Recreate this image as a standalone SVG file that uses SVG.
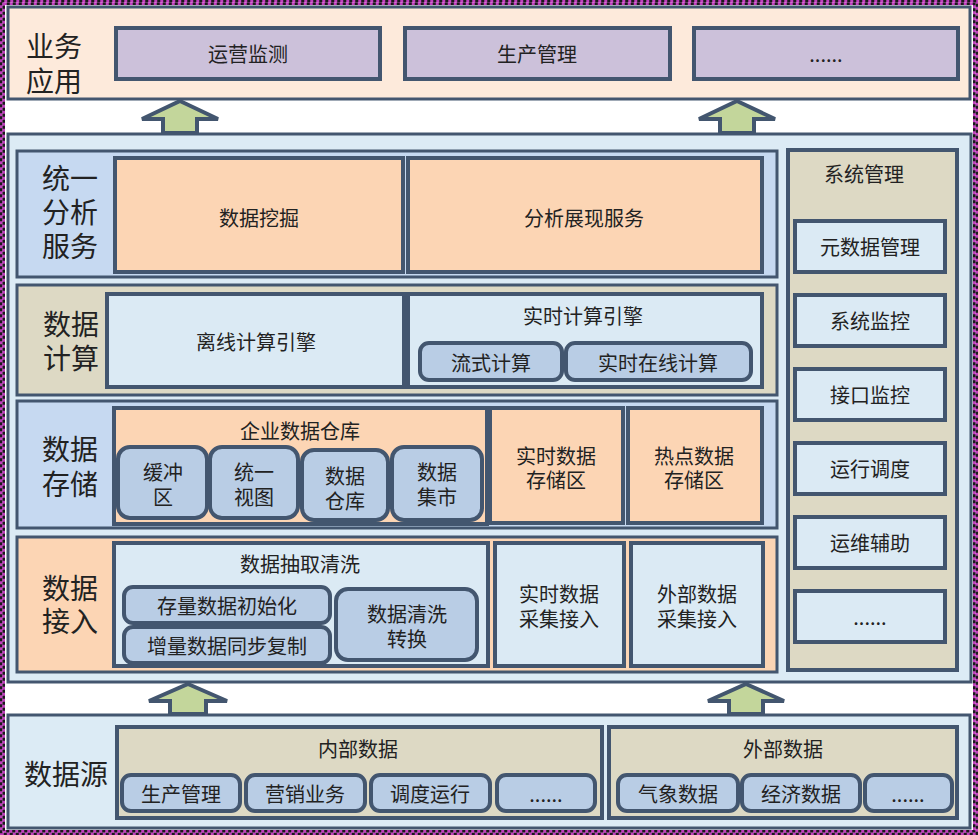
<svg xmlns="http://www.w3.org/2000/svg" width="978" height="835" viewBox="0 0 978 835">
<style>
.pn{stroke:#43566f;stroke-width:3}
.bx{stroke:#43566f;stroke-width:4}
.sub{fill:#b9cde5;stroke:#43566f;stroke-width:4}
.lav{fill:#ccc1da}
.peach{fill:#fcd5b4}
.tan{fill:#ddd9c4}
.lb{fill:#dbeaf4}
.mb{fill:#c6d9f1}
.t{font-family:"Noto Sans CJK SC","Noto Sans",sans-serif;font-size:20px;fill:#222;text-anchor:middle;dominant-baseline:central}
.L{font-size:28px}
.ar{fill:#c3d69b;stroke:#43566f;stroke-width:4;stroke-linejoin:miter}
</style>
<rect width="978" height="835" fill="#ffffff"/>
<rect x="1.25" y="1.25" width="975.5" height="832.5" fill="none" stroke="#c23fbf" stroke-width="2.5"/>
<rect x="1.25" y="1.25" width="975.5" height="832.5" fill="none" stroke="#1a1a1a" stroke-width="2.5" stroke-dasharray="3 3"/>
<rect x="3.75" y="3.75" width="970.5" height="827.5" fill="none" stroke="#c23fbf" stroke-width="2.5"/>
<rect x="3.75" y="3.75" width="970.5" height="827.5" fill="none" stroke="#1a1a1a" stroke-width="2.5" stroke-dasharray="3 3" stroke-dashoffset="3"/>

<g id="biz">
<rect class="pn" x="8" y="7" width="962" height="92" fill="#fdeadb"/>
<text class="t L" x="54" y="45">业务<tspan x="54" dy="35">应用</tspan></text>
<g id="biz1"><rect class="bx lav" x="116" y="28" width="264" height="51"/><text class="t" x="248" y="53">运营监测</text></g>
<g id="biz2"><rect class="bx lav" x="405" y="28" width="265" height="51"/><text class="t" x="537" y="53">生产管理</text></g>
<g id="biz3"><rect class="bx lav" x="694" y="28" width="264" height="51"/><text class="t" x="826" y="53">......</text></g>
</g>

<g id="main">
<rect class="pn" x="8" y="134" width="963" height="548" fill="#dcebf5"/>
</g>

<g id="analysis">
<rect class="pn mb" x="17" y="151" width="760" height="126"/>
<text class="t L" x="70" y="177">统一<tspan x="70" dy="34">分析</tspan><tspan x="70" dy="34">服务</tspan></text>
<g id="mining"><rect class="bx peach" x="115" y="158" width="288" height="114"/><text class="t" x="259" y="217">数据挖掘</text></g>
<g id="present"><rect class="bx peach" x="408" y="158" width="354" height="114"/><text class="t" x="584" y="217">分析展现服务</text></g>
</g>

<g id="compute">
<rect class="pn tan" x="17" y="285" width="760" height="110"/>
<text class="t L" x="71" y="323">数据<tspan x="71" dy="34">计算</tspan></text>
<g id="offline"><rect class="bx lb" x="107" y="294" width="297" height="93"/><text class="t" x="256" y="341">离线计算引擎</text></g>
<g id="realtime"><rect class="bx lb" x="408" y="294" width="354" height="93"/><text class="t" x="583" y="315">实时计算引擎</text>
<rect class="sub" x="420" y="343" width="142" height="37" rx="9"/><text class="t" x="491" y="362">流式计算</text>
<rect class="sub" x="566" y="343" width="185" height="37" rx="9"/><text class="t" x="658" y="362">实时在线计算</text></g>
</g>

<g id="storage">
<rect class="pn mb" x="17" y="401" width="760" height="127"/>
<text class="t L" x="70" y="448">数据<tspan x="70" dy="35">存储</tspan></text>
<g id="edw"><rect class="bx peach" x="114" y="408" width="373" height="116"/><text class="t" x="300" y="430">企业数据仓库</text>
<rect class="sub" x="118" y="447" width="89" height="71" rx="12"/><text class="t" x="163" y="471">缓冲<tspan x="163" dy="25">区</tspan></text>
<rect class="sub" x="210" y="447" width="88" height="71" rx="12"/><text class="t" x="254" y="471">统一<tspan x="254" dy="25">视图</tspan></text>
<rect class="sub" x="302" y="450" width="86" height="70" rx="12"/><text class="t" x="345" y="475">数据<tspan x="345" dy="25">仓库</tspan></text>
<rect class="sub" x="392" y="447" width="90" height="73" rx="12"/><text class="t" x="437" y="471">数据<tspan x="437" dy="25">集市</tspan></text></g>
<g id="rtstore"><rect class="bx peach" x="490" y="408" width="133" height="115"/><text class="t" x="556" y="455">实时数据<tspan x="556" dy="24">存储区</tspan></text></g>
<g id="hotstore"><rect class="bx peach" x="628" y="408" width="134" height="115"/><text class="t" x="694" y="455">热点数据<tspan x="694" dy="24">存储区</tspan></text></g>
</g>

<g id="ingest">
<rect class="pn peach" x="17" y="537" width="760" height="135"/>
<text class="t L" x="70" y="587">数据<tspan x="70" dy="33">接入</tspan></text>
<g id="etl"><rect class="bx lb" x="114" y="543" width="374" height="123"/><text class="t" x="300" y="563">数据抽取清洗</text>
<rect class="sub" x="124" y="587" width="206" height="36" rx="9"/><text class="t" x="227" y="605">存量数据初始化</text>
<rect class="sub" x="124" y="627" width="206" height="36" rx="9"/><text class="t" x="227" y="645">增量数据同步复制</text>
<rect class="sub" x="336" y="589" width="141" height="71" rx="12"/><text class="t" x="407" y="613">数据清洗<tspan x="407" dy="25">转换</tspan></text></g>
<g id="rtcollect"><rect class="bx lb" x="495" y="543" width="129" height="123"/><text class="t" x="559" y="593">实时数据<tspan x="559" dy="25">采集接入</tspan></text></g>
<g id="extcollect"><rect class="bx lb" x="631" y="543" width="132" height="123"/><text class="t" x="697" y="593">外部数据<tspan x="697" dy="25">采集接入</tspan></text></g>
</g>

<g id="sysmgmt">
<rect class="bx tan" x="788" y="150" width="169" height="520"/>
<text class="t" x="864" y="173">系统管理</text>
<g id="s1"><rect class="bx lb" x="795" y="221" width="150" height="51"/><text class="t" x="870" y="246">元数据管理</text></g>
<g id="s2"><rect class="bx lb" x="795" y="295" width="150" height="51"/><text class="t" x="870" y="320">系统监控</text></g>
<g id="s3"><rect class="bx lb" x="795" y="369" width="150" height="51"/><text class="t" x="870" y="394">接口监控</text></g>
<g id="s4"><rect class="bx lb" x="795" y="443" width="150" height="51"/><text class="t" x="870" y="468">运行调度</text></g>
<g id="s5"><rect class="bx lb" x="795" y="517" width="150" height="51"/><text class="t" x="870" y="542">运维辅助</text></g>
<g id="s6"><rect class="bx lb" x="795" y="591" width="150" height="51"/><text class="t" x="870" y="616">......</text></g>
</g>

<g id="source">
<rect class="pn" x="8" y="715" width="962" height="113" fill="#dcebf5"/>
<text class="t L" x="66" y="773">数据源</text>
<g id="internal"><rect class="bx tan" x="117" y="727" width="485" height="91"/><text class="t" x="358" y="748">内部数据</text>
<rect class="sub" x="122" y="775" width="118" height="36" rx="9"/><text class="t" x="181" y="793">生产管理</text>
<rect class="sub" x="246" y="775" width="119" height="36" rx="9"/><text class="t" x="305" y="793">营销业务</text>
<rect class="sub" x="371" y="775" width="119" height="36" rx="9"/><text class="t" x="430" y="793">调度运行</text>
<rect class="sub" x="497" y="775" width="98" height="36" rx="9"/><text class="t" x="546" y="793">......</text></g>
<g id="external"><rect class="bx tan" x="609" y="727" width="348" height="91"/><text class="t" x="783" y="748">外部数据</text>
<rect class="sub" x="618" y="775" width="120" height="36" rx="9"/><text class="t" x="678" y="793">气象数据</text>
<rect class="sub" x="742" y="775" width="118" height="36" rx="9"/><text class="t" x="801" y="793">经济数据</text>
<rect class="sub" x="865" y="775" width="87" height="36" rx="9"/><text class="t" x="908" y="793">......</text></g>
</g>

<g id="connectors">
<path class="ar" d="M180,101 L218,119 L197,119 L197,133 L163,133 L163,119 L142,119 Z"/>
<path class="ar" d="M737,101 L775,119 L754,119 L754,133 L720,133 L720,119 L699,119 Z"/>
<path class="ar" d="M188,684 L227,701 L206,701 L206,714 L170,714 L170,701 L149,701 Z"/>
<path class="ar" d="M746,684 L784,701 L763,701 L763,714 L729,714 L729,701 L708,701 Z"/>
</g>
</svg>
